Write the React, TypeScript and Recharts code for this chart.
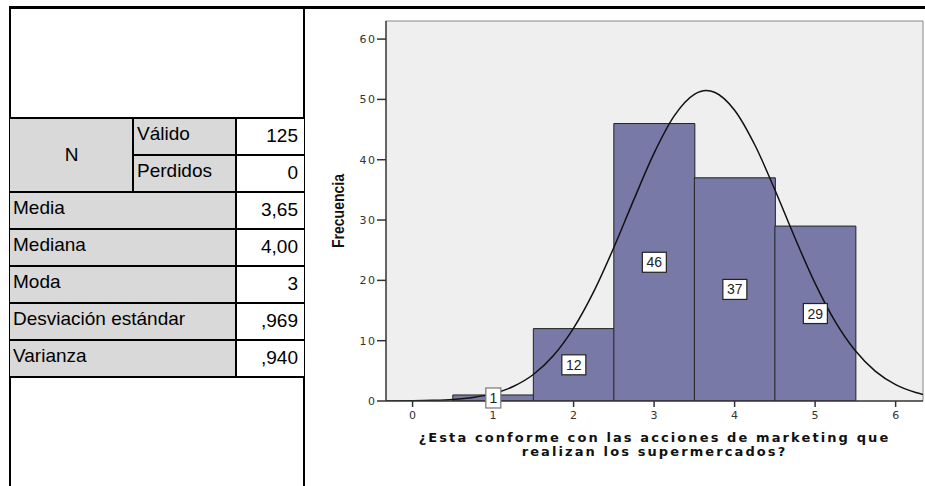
import React from "react";
import {
  ComposedChart,
  Bar,
  Line,
  XAxis,
  YAxis,
  CartesianGrid,
  LabelList,
  Label,
} from "recharts";

// frequency table (left)
const nLabels = ["Válido", "Perdidos"];
const nValues = ["125", "0"];
const statLabels = ["Media", "Mediana", "Moda", "Desviación estándar", "Varianza"];
const statValues = ["3,65", "4,00", "3", ",969", ",940"];

// histogram
const responses = [1, 2, 3, 4, 5];
const counts = [1, 12, 46, 37, 29];
const xTicks = [0, 1, 2, 3, 4, 5, 6];
const yTicks = [0, 10, 20, 30, 40, 50, 60];

// normal curve
const curveX = [-0.33, 0, 0.25, 0.5, 0.75, 1, 1.25, 1.5, 1.75, 2, 2.25, 2.5, 2.75, 3, 3.25, 3.5, 3.65, 3.75, 4, 4.25, 4.5, 4.75, 5, 5.25, 5.5, 5.75, 6, 6.25, 6.34];
const curveY = [0.01, 0.04, 0.11, 0.26, 0.59, 1.22, 2.4, 4.39, 7.53, 12.08, 18.12, 25.45, 33.43, 41.09, 47.26, 50.84, 51.46, 51.19, 48.21, 42.48, 35.02, 27.02, 19.5, 13.16, 8.32, 4.92, 2.72, 1.41, 1.09];

const barData = responses.map((r, i) => ({ x: r, count: counts[i] }));
const curveData = curveX.map((x, i) => ({ x, y: curveY[i] }));

const X_DOMAIN: [number, number] = [-0.33, 6.34];
const Y_DOMAIN: [number, number] = [0, 63];

const tickFont = { fontFamily: "'DejaVu Sans', Verdana, sans-serif", fontSize: 11, letterSpacing: 1.5 };

const cellFont = { fontFamily: "'Liberation Sans', Arial, sans-serif", fontSize: 19, color: "#000" };

function XTick(props: any) {
  const { x, y, payload } = props;
  return (
    <text x={x + 0.75} y={y + 10} textAnchor="middle" fill="#333" style={tickFont}>
      {payload.value}
    </text>
  );
}

function YTick(props: any) {
  const { x, y, payload } = props;
  return (
    <text x={x + 1.5} y={y + 4} textAnchor="end" fill="#333" style={tickFont}>
      {payload.value}
    </text>
  );
}

function CountBox(props: any) {
  const { x, y, width, height, value } = props;
  const cx = x + width / 2;
  const cy = y + height / 2;
  const w = String(value).length > 1 ? 24 : 15;
  const edge = String(value).length > 1 ? "#222" : "#777";
  return (
    <g>
      <rect x={cx - w / 2} y={cy - 10} width={w} height={20} fill="#fff" stroke={edge} strokeWidth={1.2} />
      <text x={cx} y={cy + 5} textAnchor="middle" fontSize={14} fill="#222" fontFamily="'Liberation Sans', Arial, sans-serif">
        {value}
      </text>
    </g>
  );
}

function XTitle(props: any) {
  const { viewBox } = props;
  const cx = viewBox.x + viewBox.width / 2;
  const style = { fontFamily: "'DejaVu Sans', Verdana, sans-serif", fontWeight: 700, fontSize: 13, letterSpacing: 2.1 };
  return (
    <text textAnchor="middle" fill="#111" style={style}>
      <tspan x={cx} y={viewBox.y + 41}>¿Esta conforme con las acciones de marketing que</tspan>
      <tspan x={cx} y={viewBox.y + 55}>realizan los supermercados?</tspan>
    </text>
  );
}

function YTitle(props: any) {
  const { viewBox } = props;
  const cy = viewBox.y + viewBox.height / 2;
  const x = 34;
  return (
    <text
      x={x}
      y={cy}
      transform={`rotate(-90 ${x} ${cy})`}
      textAnchor="middle"
      fill="#111"
      textLength={74}
      lengthAdjust="spacingAndGlyphs"
      style={{ fontFamily: "'Liberation Sans', Arial, sans-serif", fontWeight: 700, fontSize: 17 }}
    >
      Frecuencia
    </text>
  );
}

function StatsTable() {
  const line = "#000";
  const cols = [10, 133, 236, 304];
  const rowTop = 118;
  const rowH = 37;
  const grey = "#d9d9d9";
  const cells: React.ReactNode[] = [];

  // N block
  cells.push(
    <div key="n" style={{ position: "absolute", left: cols[0], top: rowTop, width: cols[1] - cols[0], height: rowH * 2, background: grey, display: "flex", alignItems: "center", justifyContent: "center", ...cellFont }}>
      N
    </div>
  );
  nLabels.forEach((l, i) => {
    cells.push(
      <div key={"nl" + i} style={{ position: "absolute", left: cols[1], top: rowTop + i * rowH, width: cols[2] - cols[1], height: rowH, background: grey, boxSizing: "border-box", paddingLeft: 4, paddingTop: 5, ...cellFont }}>
        {l}
      </div>
    );
    cells.push(
      <div key={"nv" + i} style={{ position: "absolute", left: cols[2], top: rowTop + i * rowH, width: cols[3] - cols[2], height: rowH, background: "#fff", boxSizing: "border-box", paddingRight: 6, paddingTop: 7, textAlign: "right", ...cellFont }}>
        {nValues[i]}
      </div>
    );
  });
  statLabels.forEach((l, i) => {
    const top = rowTop + (i + 2) * rowH;
    cells.push(
      <div key={"sl" + i} style={{ position: "absolute", left: cols[0], top, width: cols[2] - cols[0], height: rowH, background: grey, boxSizing: "border-box", paddingLeft: 3, paddingTop: 5, ...cellFont }}>
        {l}
      </div>
    );
    cells.push(
      <div key={"sv" + i} style={{ position: "absolute", left: cols[2], top, width: cols[3] - cols[2], height: rowH, background: "#fff", boxSizing: "border-box", paddingRight: 6, paddingTop: 7, textAlign: "right", ...cellFont }}>
        {statValues[i]}
      </div>
    );
  });

  // grid lines
  const rows = nLabels.length + statLabels.length;
  for (let r = 0; r <= rows; r++) {
    const y = rowTop + r * rowH;
    const left = r === 1 ? cols[1] : cols[0];
    cells.push(<div key={"h" + r} style={{ position: "absolute", left, top: y - 1, width: cols[3] - left, height: 2, background: line }} />);
  }
  cells.push(<div key="v1" style={{ position: "absolute", left: cols[1] - 1, top: rowTop, width: 2, height: rowH * 2, background: line }} />);
  cells.push(<div key="v2" style={{ position: "absolute", left: cols[2] - 1, top: rowTop, width: 2, height: rowH * rows, background: line }} />);

  return <>{cells}</>;
}

export default function App() {
  return (
    <div style={{ position: "absolute", left: 0, top: 0, width: 925, height: 486, background: "#fff", overflow: "hidden" }}>
      {/* frame */}
      <div style={{ position: "absolute", left: 9, top: 6, width: 916, height: 3, background: "#000" }} />
      <div style={{ position: "absolute", left: 9, top: 6, width: 2, height: 480, background: "#000" }} />
      <div style={{ position: "absolute", left: 303, top: 6, width: 2, height: 480, background: "#000" }} />
      <StatsTable />

      <div style={{ position: "absolute", left: 310, top: 0 }}>
        <ComposedChart
          width={615}
          height={486}
          data={barData}
          margin={{ top: 21, right: 2, bottom: 0, left: 0 }}
          barCategoryGap={0}
          barGap={0}
        >
          <CartesianGrid
            fill="#efefef"
            stroke="#888"
            horizontalCoordinatesGenerator={({ offset }: any) => [offset.top]}
            verticalCoordinatesGenerator={({ offset }: any) => [offset.left + offset.width]}
          />
          <XAxis
            type="number"
            dataKey="x"
            domain={X_DOMAIN}
            ticks={xTicks}
            allowDataOverflow
            height={85}
            tickSize={6}
            tickMargin={2}
            tick={<XTick />}
            stroke="#333"
            strokeWidth={1.5}
            interval={0}
          >
            <Label content={<XTitle />} />
          </XAxis>
          <XAxis xAxisId="curve" type="number" dataKey="x" domain={X_DOMAIN} allowDataOverflow hide />
          <YAxis
            type="number"
            domain={Y_DOMAIN}
            ticks={yTicks}
            allowDataOverflow
            width={76}
            tickSize={9}
            tickMargin={2}
            tick={<YTick />}
            stroke="#333"
            strokeWidth={1.5}
            interval={0}
          >
            <Label content={<YTitle />} />
          </YAxis>
          <Bar dataKey="count" fill="#7979a8" stroke="#222" strokeWidth={1} isAnimationActive={false}>
            <LabelList dataKey="count" content={<CountBox />} />
          </Bar>
          <Line
            xAxisId="curve"
            data={curveData}
            dataKey="y"
            type="monotone"
            stroke="#111"
            strokeWidth={1.5}
            dot={false}
            activeDot={false}
            isAnimationActive={false}
          />
        </ComposedChart>
      </div>
    </div>
  );
}
